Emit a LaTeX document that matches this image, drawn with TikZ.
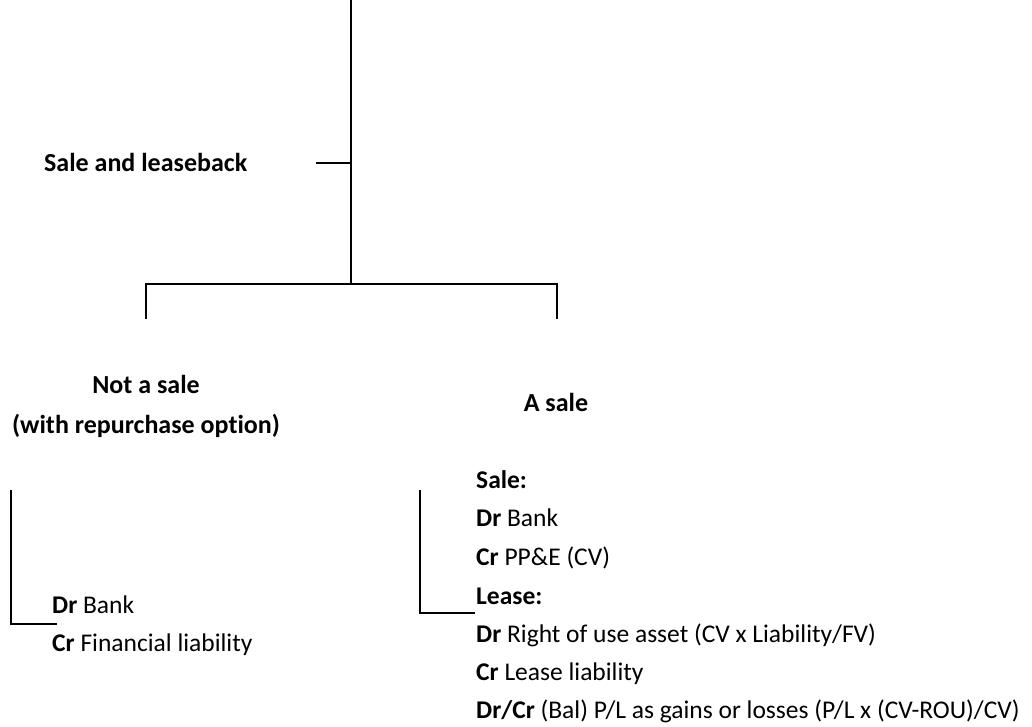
\documentclass[tikz,border=0pt]{standalone}
\usepackage{fontspec}
\setmainfont[Ligatures=NoCommon]{Carlito}
\begin{document}
\begin{tikzpicture}[x=1pt,y=-1pt,
  txt/.style={inner sep=0pt,font=\fontsize{25.5}{30}\selectfont,text height=18pt,text depth=1pt},
  head/.style={txt,font=\fontsize{26}{30}\selectfont\bfseries},
  entry/.style={txt,anchor=west},
  tree/.style={line width=1.2pt,line cap=butt}]
\useasboundingbox (0,0) rectangle (1032,727);

% Top of the tree
\coordinate (stem) at (351,0);
\coordinate (hub) at (351,284);
\coordinate (tick) at (316,163);
\coordinate (tickend) at (351,163);
\coordinate (lbr) at (146,284);
\coordinate (rbr) at (557,284);
\coordinate (lbrend) at (146,319);
\coordinate (rbrend) at (557,319);

\node[head,anchor=west] (root) at (44,163) {Sale and leaseback};
\node[head] (notsale) at (146,385) {Not a sale};
\node[head] (notsale2) at (146,425) {(with repurchase option)};
\node[head] (asale) at (556,403) {A sale};

\draw[tree] (stem) -- (hub);
\draw[tree] (tick) -- (tickend);
\draw[tree] (lbrend) -- (lbr) -- (rbr) -- (rbrend);

% Not a sale: entries
\node[entry] (ldr) at (52,605) {\textbf{Dr} Bank};
\node[entry] (lcr) at (52,643) {\textbf{Cr} Financial liability};
\coordinate (lv) at (11,490);
\coordinate (lc) at (11,624);
\coordinate (lh) at (57,624);
\draw[tree] (lv) -- (lc) -- (lh);

% A sale: entries
\node[entry] (s1) at (476,480) {\textbf{Sale:}};
\node[entry] (s2) at (476,518) {\textbf{Dr} Bank};
\node[entry] (s3) at (476,557) {\textbf{Cr} PP\&E (CV)};
\node[entry] (s4) at (476,596) {\textbf{Lease:}};
\node[entry] (s5) at (476,634) {\textbf{Dr} Right of use asset (CV x Liability/FV)};
\node[entry] (s6) at (476,672) {\textbf{Cr} Lease liability};
\node[entry] (s7) at (476,710) {\textbf{Dr/Cr} (Bal) P/L as gains or losses (P/L x (CV-ROU)/CV)};
\coordinate (rv) at (420,490);
\coordinate (rc) at (420,613);
\coordinate (rh) at (475,613);
\draw[tree] (rv) -- (rc) -- (rh);
\end{tikzpicture}
\end{document}
